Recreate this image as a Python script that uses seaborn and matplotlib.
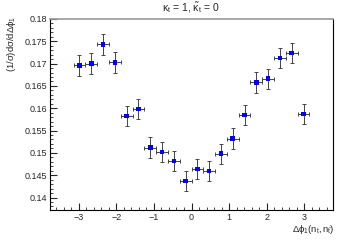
import numpy as np
import pandas as pd
import matplotlib
matplotlib.use("Agg")
import matplotlib.pyplot as plt
import seaborn as sns
from matplotlib.ticker import MultipleLocator

# Data
dphi = [-2.985, -2.670, -2.356, -2.042, -1.728, -1.414, -1.100, -0.785, -0.471, -0.157,
        0.157, 0.471, 0.785, 1.100, 1.414, 1.728, 2.042, 2.356, 2.670, 2.985]
xsec = [0.1696, 0.1700, 0.1743, 0.1703, 0.1583, 0.1598, 0.1512, 0.1502, 0.1482, 0.1437,
        0.1464, 0.1459, 0.1498, 0.1532, 0.1585, 0.1658, 0.1666, 0.1713, 0.1724, 0.1587]
yerr = [0.0023] * 20
xerr = [0.157] * 20

df = pd.DataFrame({"dphi": dphi, "xsec": xsec})

sns.set_style("ticks")
plt.rcParams['font.family'] = ['Liberation Sans', 'DejaVu Sans']
plt.rcParams['mathtext.fontset'] = 'custom'
plt.rcParams['mathtext.rm'] = 'Liberation Sans'
plt.rcParams['mathtext.it'] = 'Liberation Sans'

fig = plt.figure(figsize=(3.55, 2.4), dpi=100)
ax = fig.add_axes([50/355, 1 - 210/240, (333-50)/355, (210-19)/240])

ax.errorbar(df["dphi"], df["xsec"], xerr=xerr, yerr=yerr, fmt='none',
            ecolor='#444444', elinewidth=0.7, capsize=1.2, capthick=0.7, zorder=2)
sns.scatterplot(data=df, x="dphi", y="xsec", ax=ax, color='#0000ff', marker='s',
                s=11, edgecolor='none', zorder=3, legend=False)

ax.set_xlim(-1.2*np.pi, 1.2*np.pi)
ax.set_ylim(0.1372, 0.18)
ax.xaxis.set_major_locator(MultipleLocator(1))
ax.xaxis.set_minor_locator(MultipleLocator(0.2))
ax.yaxis.set_major_locator(MultipleLocator(0.005))
ax.yaxis.set_minor_locator(MultipleLocator(0.001))
ax.yaxis.set_major_formatter(matplotlib.ticker.FuncFormatter(lambda v, p: ('%.3f' % v).rstrip('0')))
ax.tick_params(axis='both', which='major', direction='in', length=5, width=0.8,
               labelsize=6.5, pad=2, top=False, right=False)
ax.tick_params(axis='both', which='minor', direction='in', length=2.5, width=0.6,
               top=False, right=False)
ax.tick_params(axis='x', which='major', pad=2)
for s in ['left', 'bottom', 'right']:
    ax.spines[s].set_color('black')
    ax.spines[s].set_linewidth(0.8)
ax.spines['top'].set_color('#999999')
ax.spines['top'].set_linewidth(1.2)

ax.set_xlabel('')
ax.set_ylabel('')
fig.text(334/355, 1 - 230/240, r'$\Delta\phi_1(n_t, n_{\bar{t}})$', ha='right', va='center', fontsize=6.8)
fig.text(12/355, 1 - 16/240, r'$(1/\sigma)d\sigma/d\Delta\phi_1$', ha='center', va='top',
         rotation=90, fontsize=6.8)
fig.text(191/355, 1 - 8/240, r'$\kappa_t$ = 1, $\tilde{\kappa}_t$ = 0', ha='center', va='center', fontsize=7.5)

fig.savefig('out.png', dpi=100)
